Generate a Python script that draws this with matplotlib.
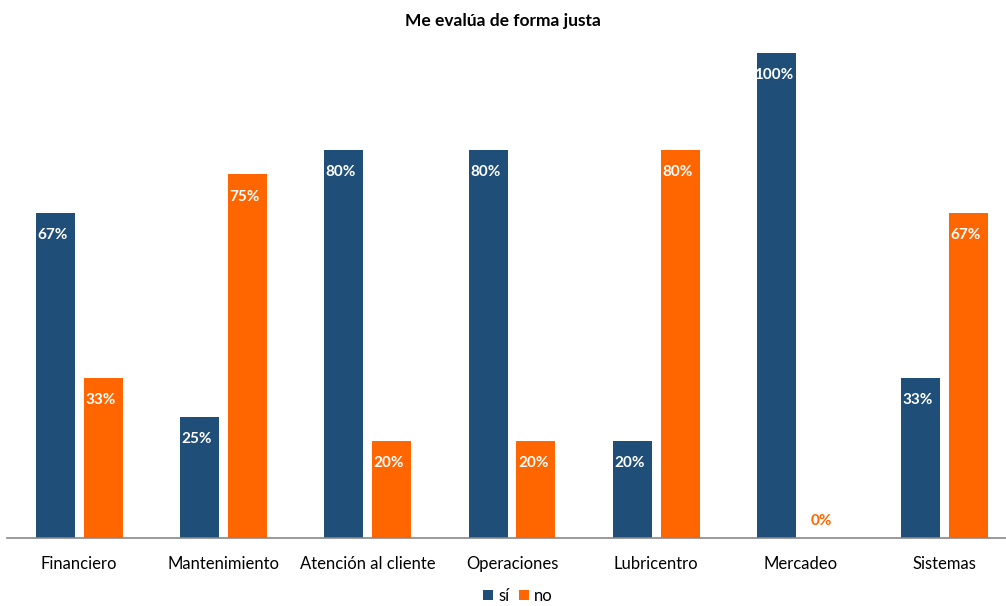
import numpy as np
import matplotlib.pyplot as plt

plt.rcParams['font.family'] = ['Lato', 'DejaVu Sans']

categories = ['Financiero', 'Mantenimiento', 'Atención al cliente', 'Operaciones',
              'Lubricentro', 'Mercadeo', 'Sistemas']
si = [67, 25, 80, 80, 20, 100, 33]
no = [33, 75, 20, 20, 80, 0, 67]

blue = '#1F4E79'
orange = '#FF6600'

fig = plt.figure(figsize=(10.06, 6.06), dpi=100)
# axes spans a bit past the right edge, as in the reference
ax = fig.add_axes([7 / 1006, 1 - 538 / 606, 1010 / 1006, 485 / 606])

x = np.arange(len(categories))
w = 0.27
off = 0.166
ax.bar(x - off, si, w, color=blue, label='sí')
ax.bar(x + off, no, w, color=orange, label='no')

lbl = dict(ha='center', va='center', fontweight='bold', fontsize=11,
           textcoords='offset points', xytext=(-2, 0))
for i in range(len(categories)):
    ax.annotate(f'{si[i]}%', (x[i] - off, si[i] - 4.6), color='white', **lbl)
    if no[i] > 0:
        ax.annotate(f'{no[i]}%', (x[i] + off, no[i] - 4.6), color='white', **lbl)
    else:
        ax.annotate(f'{no[i]}%', (x[i] + off, 3.6), color=orange, **lbl)

ax.set_xlim(-0.5, len(categories) - 0.5)
ax.set_ylim(0, 100)
ax.set_xticks(x)
ax.set_xticklabels(categories, fontsize=12)
ax.tick_params(axis='x', length=0, pad=13)
ax.set_yticks([])
for s in ['top', 'right', 'left']:
    ax.spines[s].set_visible(False)
ax.spines['bottom'].set_color('#888888')
ax.spines['bottom'].set_linewidth(1.2)

fig.text(0.5, 1 - 21 / 606, 'Me evalúa de forma justa', ha='center', va='center',
         fontweight='bold', fontsize=12.5)
fig.legend(loc='center', bbox_to_anchor=(0.515, 1 - 596 / 606), ncol=2, frameon=False,
           fontsize=12, handlelength=0.6, handleheight=0.6, handletextpad=0.3,
           columnspacing=0.6)

fig.savefig('out.png', dpi=100)
